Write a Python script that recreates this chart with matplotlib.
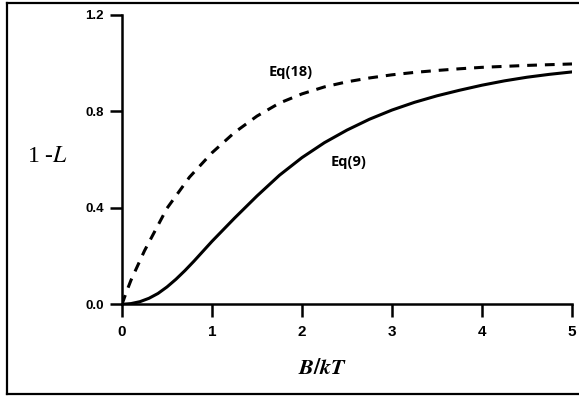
import matplotlib.pyplot as plt
from matplotlib.lines import Line2D

# values
eq9_x = [0, 0.1, 0.2, 0.3, 0.4, 0.5, 0.6, 0.7, 0.8, 0.9, 1.0, 1.25, 1.5, 1.75, 2.0,
         2.25, 2.5, 2.75, 3.0, 3.25, 3.5, 3.75, 4.0, 4.25, 4.5, 4.75, 5.0]
eq9_y = [0, 0.003, 0.011, 0.025, 0.045, 0.072, 0.104, 0.14, 0.179, 0.22, 0.261,
         0.357, 0.449, 0.535, 0.608, 0.67, 0.722, 0.767, 0.805, 0.837, 0.864, 0.887,
         0.908, 0.926, 0.941, 0.953, 0.963]

eq18_x = [0, 0.05, 0.1, 0.25, 0.5, 0.75, 1.0, 1.25, 1.5, 1.75, 2.0, 2.25, 2.5, 2.75,
          3.0, 3.25, 3.5, 3.75, 4.0, 4.5, 5.0]
eq18_y = [0, 0.052, 0.1, 0.222, 0.398, 0.527, 0.628, 0.712, 0.78, 0.834, 0.872,
          0.901, 0.922, 0.938, 0.951, 0.961, 0.969, 0.976, 0.982, 0.99, 0.996]

x_ticks = [0, 1, 2, 3, 4, 5]
y_ticks = [0.0, 0.4, 0.8, 1.2]

fig = plt.figure(figsize=(5.79, 3.99), dpi=100)
ax = fig.add_axes([0.2107, 0.2373, 0.7772, 0.7258])

ax.plot(eq9_x, eq9_y, color='black', lw=2.2, solid_capstyle='round')
ax.plot(eq18_x, eq18_y, color='black', lw=2.2, dashes=(3.2, 2.6))

ax.set_xlim(0, 5)
ax.set_ylim(0, 1.2)
ax.set_xticks(x_ticks)
ax.set_yticks(y_ticks)
ax.set_xticklabels([str(t) for t in x_ticks], fontsize=11, fontweight='bold',
                   family='Liberation Sans')
ax.set_yticklabels([f'{t:.1f}' for t in y_ticks], fontsize=9.5, fontweight='bold',
                   family='Liberation Sans')
ax.tick_params(direction='out', length=9, width=1.8, pad=4)
ax.tick_params(axis='x', pad=6)
for s in ['top', 'right']:
    ax.spines[s].set_visible(False)
for s in ['left', 'bottom']:
    ax.spines[s].set_linewidth(1.8)
ax.patch.set_alpha(0)

ax.text(1.87, 0.963, 'Eq(18)', fontsize=10.5, fontweight='bold', family='Open Sans',
        ha='center', va='center')
ax.text(2.52, 0.59, 'Eq(9)', fontsize=10.5, fontweight='bold', family='Open Sans',
        ha='center', va='center')

fig.text(0.081, 0.607, r'1 -$\mathit{L}$', fontsize=17, family='Liberation Serif',
         ha='center', va='center', math_fontfamily='stix')
fig.text(0.558, 0.078, r'$\boldsymbol{B/kT}$', fontsize=16, ha='center', va='center',
         math_fontfamily='stix')

# frame around the picture (top, left, bottom)
frame = dict(color='black', lw=1.6, transform=fig.transFigure)
fig.add_artist(Line2D([0.012, 1.0], [0.992, 0.992], **frame))
fig.add_artist(Line2D([0.012, 0.012], [0.992, 0.012], **frame))
fig.add_artist(Line2D([0.012, 1.0], [0.012, 0.012], **frame))

fig.savefig('out.png', dpi=100)
